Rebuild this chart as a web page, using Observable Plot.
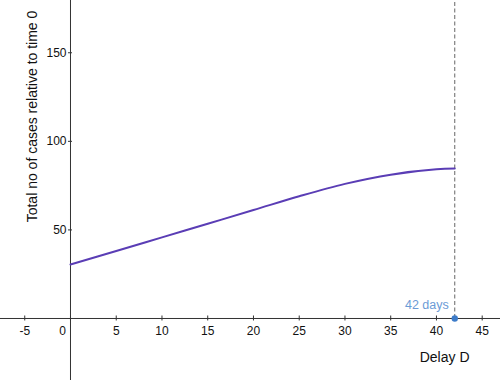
<!DOCTYPE html>
<html>
<head>
<meta charset="utf-8">
<script src="https://cdn.jsdelivr.net/npm/d3@7"></script>
<script src="https://cdn.jsdelivr.net/npm/@observablehq/plot@0.6"></script>
<style>
html,body{margin:0;padding:0;background:#fff;}
</style>
</head>
<body>
<div id="chart"></div>
<script>
const delay = [0, 5, 10, 15, 20, 25, 30, 35, 40, 42];
const cases = [30.5, 38.1, 45.8, 53.5, 61.2, 69.0, 76.0, 81.2, 84.2, 84.6];
const xTicks = [-5, 0, 5, 10, 15, 20, 25, 30, 35, 40, 45];
const yTicks = [50, 100, 150];
const marker = [{x: 42, y: 0, label: "42 days"}];

const data = delay.map((d, i) => ({x: d, y: cases[i]}));
const font = "Liberation Sans, Arial, Helvetica, sans-serif";

const plot = Plot.plot({
  width: 500,
  height: 380,
  margin: 0,
  style: {fontFamily: font, background: "#fff"},
  x: {domain: [-7.65, 47], axis: null},
  y: {domain: [-35, 179.5], axis: null},
  marks: [
    Plot.ruleY([0], {stroke: "#333", strokeWidth: 1}),
    Plot.ruleX([0], {stroke: "#333", strokeWidth: 1}),
    Plot.ruleX(xTicks, {x: d => d, y1: -1.4, y2: 1.4, stroke: "#333"}),
    Plot.ruleY(yTicks, {y: d => d, x1: -0.22, x2: 0.22, stroke: "#333"}),
    Plot.text(xTicks.filter(d => d !== 0), {x: d => d, y: 0, dy: 13, text: d => String(d), fontSize: 12, fill: "#111"}),
    Plot.text(xTicks.filter(d => d === 0), {x: d => d, y: 0, dy: 13, dx: -8, text: d => String(d), fontSize: 12, fill: "#111"}),
    Plot.text(yTicks, {x: 0, y: d => d, dx: -4, textAnchor: "end", text: d => String(d), fontSize: 12, fill: "#111"}),
    Plot.ruleX(marker, {x: "x", y1: 0, y2: 179.5, stroke: "#666", strokeDasharray: "4,2.5", strokeWidth: 1}),
    Plot.line(data, {x: "x", y: "y", stroke: "#5a3db5", strokeWidth: 2, curve: "catmull-rom"}),
    Plot.dot(marker, {x: "x", y: "y", r: 3.2, fill: "#3d7cc9", stroke: "none"}),
    Plot.text(marker, {x: "x", y: "y", text: "label", dx: -6, dy: -13, textAnchor: "end", fontSize: 12.5, fill: "#6b9bd6"}),
    Plot.text(["Delay D"], {frameAnchor: "bottom-right", text: d => d, textAnchor: "end", lineAnchor: "middle", dx: -31, dy: -23, fontSize: 14, fill: "#111"}),
    Plot.text(["Total no of cases relative to time 0"], {frameAnchor: "left", text: d => d, rotate: -90, textAnchor: "middle", dx: 32, dy: -74, fontSize: 14, fill: "#111"})
  ]
});
document.getElementById("chart").appendChild(plot);
</script>
</body>
</html>
